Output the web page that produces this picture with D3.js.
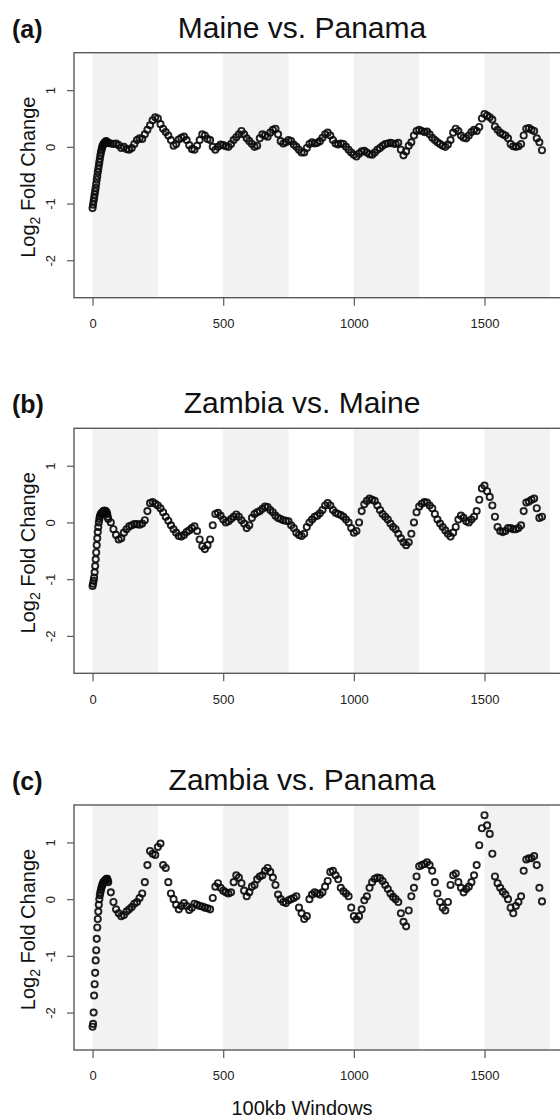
<!DOCTYPE html>
<html>
<head>
    <meta charset="utf-8">
    <title>Log2 fold change along 100kb windows</title>
    <style media="screen">
        body {
            margin: 0;
            background: #fff;
        }

        svg {
            display: block;
            font-family: "Liberation Sans", Arial, Helvetica, sans-serif;
        }

        .band {
            fill: #f2f2f2;
        }

        .frame {
            fill: none;
            stroke: #5a5a5a;
            stroke-width: 1.4px;
        }

        .pt {
            fill: none;
            stroke: #0a0a0a;
            stroke-width: 1.9px;
            stroke-opacity: 0.9;
        }

        .axis line {
            stroke: #5a5a5a;
            stroke-width: 1.2px;
        }

        .axis text {
            font-size: 13px;
            fill: #222;
        }
    </style>
</head>
<body>
<script src="https://d3js.org/d3.v7.min.js"></script>
<script type="text/javascript">
    // panel text
    var titles = ["Maine vs. Panama", "Zambia vs. Maine", "Zambia vs. Panama"];
    var tags = ["(a)", "(b)", "(c)"];
    var xTicks = [0, 500, 1000, 1500];
    var yTicks = [1, 0, -1, -2];
    // shaded blocks of windows
    var bandStarts = [0, 500, 1000, 1500];
    var bandWidth = 250;

    // windows 0..58 are read every 2 windows (steep start), the rest every 10 from 60
    var earlyStep = 2, mainStart = 60, mainStep = 10;

    // (a) Maine vs. Panama
    var aEarly = [-1.08, -1.02, -0.96, -0.9, -0.84, -0.78, -0.72, -0.65, -0.58, -0.52,
        -0.45, -0.39, -0.33, -0.27, -0.21, -0.15, -0.1, -0.06, -0.02, 0.01,
        0.03, 0.05, 0.06, 0.07, 0.08, 0.09, 0.1, 0.09, 0.08, 0.07];
    var aMain = [0.07, 0.06, 0.05, 0.06, 0.03, -0.02, 0.0, -0.04, -0.05, -0.02,
        0.05, 0.12, 0.15, 0.14, 0.22, 0.3, 0.38, 0.47, 0.52, 0.5,
        0.4, 0.32, 0.26, 0.2, 0.12, 0.02, 0.05, 0.13, 0.16, 0.18,
        0.12, 0.03, -0.04, -0.05, 0.02, 0.12, 0.22, 0.2, 0.14, 0.12,
        0.0, -0.05, 0.0, 0.04, 0.03, 0.01, 0.0, 0.05, 0.12, 0.17,
        0.22, 0.28, 0.22, 0.15, 0.1, 0.05, 0.0, 0.02, 0.15, 0.22,
        0.2, 0.18, 0.25, 0.3, 0.32, 0.22, 0.1, 0.06, 0.08, 0.12,
        0.1, 0.04, 0.0, -0.05, -0.1, -0.1, -0.02, 0.05, 0.08, 0.06,
        0.07, 0.1, 0.16, 0.22, 0.25, 0.2, 0.12, 0.06, 0.04, 0.06,
        0.05, 0.0, -0.05, -0.1, -0.14, -0.17, -0.12, -0.08, -0.07, -0.1,
        -0.13, -0.14, -0.1, -0.05, -0.02, 0.02, 0.05, 0.06, 0.07, 0.06,
        0.05, 0.07, -0.05, -0.15, -0.08, 0.02, 0.08, 0.2, 0.28, 0.3,
        0.28, 0.26, 0.27, 0.22, 0.16, 0.12, 0.08, 0.05, 0.02, 0.0,
        0.04, 0.12, 0.25, 0.32, 0.28, 0.2, 0.16, 0.15, 0.2, 0.26,
        0.3, 0.28, 0.35, 0.5, 0.58, 0.55, 0.52, 0.48, 0.36, 0.3,
        0.25, 0.22, 0.2, 0.15, 0.05, 0.01, 0.0, 0.01, 0.05, 0.2,
        0.32, 0.33, 0.3, 0.28, 0.15, 0.08, -0.06];

    // (b) Zambia vs. Maine
    var bEarly = [-1.12, -1.08, -1.03, -0.97, -0.88, -0.77, -0.65, -0.53, -0.4, -0.28,
        -0.17, -0.08, 0.0, 0.06, 0.1, 0.13, 0.15, 0.16, 0.17, 0.18,
        0.19, 0.2, 0.2, 0.21, 0.2, 0.2, 0.19, 0.18, 0.15, 0.1];
    var bMain = [0.06, 0.0, -0.12, -0.22, -0.3, -0.28, -0.18, -0.12, -0.07, -0.05,
        -0.03, -0.03, -0.04, -0.02, 0.04, 0.2, 0.34, 0.36, 0.33, 0.3,
        0.25, 0.18, 0.1, 0.03, -0.05, -0.12, -0.18, -0.24, -0.25, -0.22,
        -0.17, -0.14, -0.1, -0.07, -0.15, -0.3, -0.42, -0.47, -0.4, -0.3,
        -0.05, 0.15, 0.17, 0.12, 0.05, 0.0, 0.02, 0.06, 0.1, 0.14,
        0.1, 0.04, -0.02, -0.1, -0.05, 0.08, 0.15, 0.18, 0.2, 0.24,
        0.28, 0.27, 0.22, 0.18, 0.12, 0.08, 0.06, 0.04, 0.03, 0.02,
        -0.05, -0.1, -0.18, -0.22, -0.24, -0.2, -0.08, 0.0, 0.05, 0.1,
        0.12, 0.16, 0.22, 0.3, 0.34, 0.3, 0.22, 0.17, 0.15, 0.13,
        0.1, 0.05, 0.0, -0.1, -0.18, -0.15, 0.0, 0.2, 0.32, 0.38,
        0.42, 0.4, 0.38, 0.3, 0.22, 0.15, 0.1, 0.05, -0.02, -0.08,
        -0.12, -0.2, -0.28, -0.35, -0.4, -0.35, -0.2, 0.0, 0.18, 0.28,
        0.33, 0.36, 0.35, 0.3, 0.25, 0.15, 0.05, -0.02, -0.08, -0.14,
        -0.2, -0.25, -0.18, -0.08, 0.05, 0.12, 0.08, 0.02, 0.0, 0.05,
        0.1, 0.2, 0.4, 0.6, 0.65, 0.55, 0.45, 0.3, 0.1, -0.08,
        -0.15, -0.17, -0.15, -0.1, -0.1, -0.12, -0.12, -0.1, -0.05, 0.2,
        0.35, 0.37, 0.4, 0.42, 0.25, 0.08, 0.1];

    // (c) Zambia vs. Panama
    var cEarly = [-2.25, -2.2, -2.0, -1.7, -1.5, -1.3, -1.08, -0.9, -0.7, -0.5,
        -0.35, -0.22, -0.1, 0.0, 0.07, 0.12, 0.16, 0.2, 0.23, 0.26,
        0.28, 0.3, 0.31, 0.32, 0.33, 0.34, 0.35, 0.36, 0.36, 0.33];
    var cMain = [0.3, 0.12, -0.05, -0.18, -0.25, -0.3, -0.28, -0.22, -0.18, -0.14,
        -0.08, -0.05, 0.02, 0.1, 0.3, 0.6, 0.85, 0.8, 0.78, 0.92,
        0.98, 0.6, 0.55, 0.3, 0.1, 0.0, -0.1, -0.18, -0.12, -0.07,
        -0.12, -0.19, -0.15, -0.08, -0.1, -0.12, -0.13, -0.15, -0.16, -0.18,
        0.02, 0.22, 0.28, 0.2, 0.15, 0.12, 0.1, 0.12, 0.3, 0.42,
        0.38, 0.28, 0.15, 0.05, 0.12, 0.22, 0.25, 0.35, 0.4, 0.42,
        0.5, 0.55, 0.48, 0.38, 0.25, 0.08, 0.0, -0.05, -0.07, -0.02,
        0.0, 0.02, 0.05, -0.15, -0.25, -0.35, -0.3, 0.0, 0.08, 0.12,
        0.1, 0.08, 0.12, 0.22, 0.32, 0.48, 0.5, 0.42, 0.35, 0.2,
        0.14, 0.1, 0.05, -0.15, -0.3, -0.36, -0.3, -0.18, -0.02, 0.05,
        0.2, 0.3, 0.36, 0.38, 0.37, 0.32, 0.25, 0.18, 0.1, 0.04,
        0.0, -0.05, -0.25, -0.4, -0.48, -0.2, 0.05, 0.2, 0.4, 0.58,
        0.6, 0.62, 0.65, 0.6, 0.5, 0.3, 0.1, -0.05, -0.15, -0.2,
        -0.05, 0.25, 0.42, 0.45, 0.3, 0.2, 0.12, 0.18, 0.22, 0.3,
        0.42, 0.6, 0.95, 1.25, 1.48, 1.3, 1.15, 0.8, 0.4, 0.28,
        0.2, 0.13, 0.08, 0.0, -0.15, -0.25, -0.12, -0.05, 0.05, 0.5,
        0.7, 0.72, 0.72, 0.76, 0.6, 0.2, -0.04];

    var series = [[aEarly, aMain], [bEarly, bMain], [cEarly, cMain]];

    // page / panel geometry
    var W = 560, H = 1118;
    var panelTop = [52.7, 428.3, 805],
        panelH = 245,
        left = 74;

    var svg = d3.select("body").append("svg")
        .attr("width", W)
        .attr("height", H);

    // R-style x range (the frame runs off the right edge of the page)
    var x = d3.scaleLinear()
        .domain([-71, 2000])
        .range([left, left + 2071 * 0.2613]);

    // windows index -> value list
    function toPoints(early, main) {
        var pts = early.map(function (v, i) {
            return {w: i * earlyStep, v: v};
        });
        main.forEach(function (v, i) {
            pts.push({w: mainStart + i * mainStep, v: v});
        });
        return pts;
    }

    series.forEach(function (s, k) {
        var top = panelTop[k];
        var y = d3.scaleLinear()
            .domain([-2.66, 1.66])
            .range([top + panelH, top]);

        var g = svg.append("g");

        // grey bands behind the points
        g.selectAll("rect.band")
            .data(bandStarts)
            .enter().append("rect")
            .attr("class", "band")
            .attr("x", function (d) { return x(d); })
            .attr("width", function (d) { return x(d + bandWidth) - x(d); })
            .attr("y", top)
            .attr("height", panelH);

        // open circles
        g.selectAll("circle.pt")
            .data(toPoints(s[0], s[1]))
            .enter().append("circle")
            .attr("class", "pt")
            .attr("cx", function (d) { return x(d.w); })
            .attr("cy", function (d) { return y(d.v); })
            .attr("r", 3.1);

        // frame
        g.append("rect")
            .attr("class", "frame")
            .attr("x", left)
            .attr("y", top)
            .attr("width", x.range()[1] - left)
            .attr("height", panelH);

        // x axis
        var xa = g.append("g")
            .attr("class", "axis")
            .attr("transform", "translate(0," + (top + panelH) + ")")
            .call(d3.axisBottom(x).tickValues(xTicks).tickSize(8).tickPadding(13).tickFormat(d3.format("d")));
        xa.select(".domain").remove();

        // y axis, labels turned like R's default
        var ya = g.append("g")
            .attr("class", "axis")
            .attr("transform", "translate(" + left + ",0)")
            .call(d3.axisLeft(y).tickValues(yTicks).tickSize(7).tickFormat(function (d) { return d < 0 ? "-" + (-d) : d; }));
        ya.select(".domain").remove();
        ya.selectAll("text")
            .attr("x", null)
            .attr("dy", null)
            .attr("text-anchor", "middle")
            .attr("transform", "translate(-19.5,0) rotate(-90)");

        // y title with subscript
        var yl = g.append("text")
            .attr("transform", "translate(34.5," + (top + panelH / 2 + 2) + ") rotate(-90)")
            .attr("text-anchor", "middle")
            .style("font-size", "20px")
            .style("fill", "#111");
        yl.append("tspan").text("Log");
        yl.append("tspan").attr("dy", 5).style("font-size", "14px").text("2");
        yl.append("tspan").attr("dy", -5).text(" Fold Change");

        // panel title and tag
        g.append("text")
            .attr("x", 302)
            .attr("y", top - 15)
            .attr("text-anchor", "middle")
            .style("font-size", "30px")
            .style("fill", "#111")
            .text(titles[k]);

        g.append("text")
            .attr("x", 12)
            .attr("y", top - 15)
            .style("font-size", "25px")
            .style("font-weight", "bold")
            .style("fill", "#111")
            .text(tags[k]);
    });

    // shared x title under the last panel
    svg.append("text")
        .attr("x", 302)
        .attr("y", 1115)
        .attr("text-anchor", "middle")
        .style("font-size", "20px")
        .style("fill", "#111")
        .text("100kb Windows");
</script>
</body>
</html>
